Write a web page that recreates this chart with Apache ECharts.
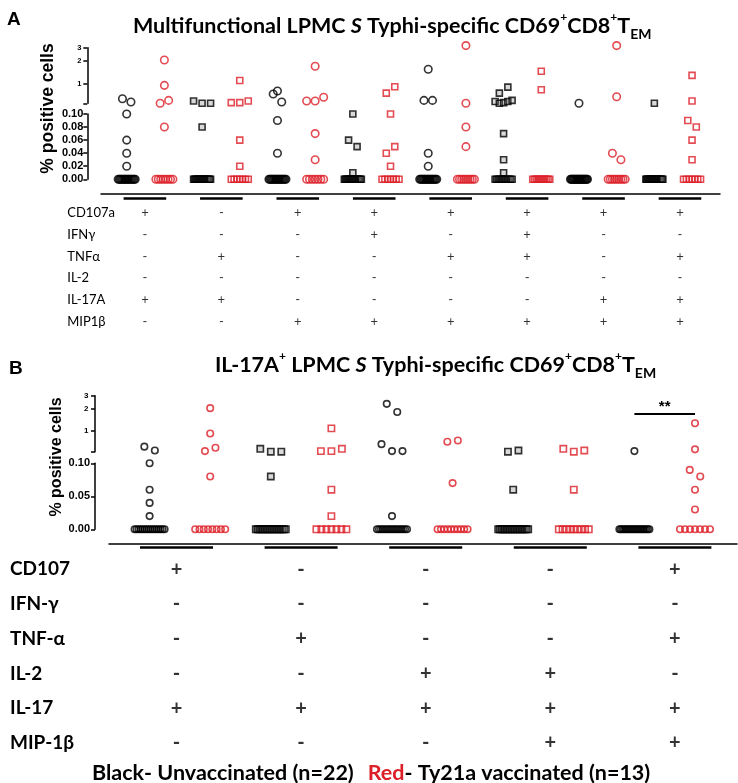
<!DOCTYPE html>
<html><head><meta charset="utf-8">
<script src="https://cdn.jsdelivr.net/npm/echarts@6/dist/echarts.min.js"></script>
<style>html,body{margin:0;padding:0;background:#fff}#c{width:738px;height:783px}</style>
</head><body><div id="c"></div>
<script>
// ================= DATA =================
// Panel A: 8 cytokine combinations; black = unvaccinated (n=22), red = Ty21a vaccinated (n=13)
const aShapes = ['circle','rect','circle','rect','circle','rect','circle','rect'];
const aUnvaccinated = [
  [0.63,0.57,0.10,0.06,0.04,0.02, 0,0,0,0,0,0,0,0,0,0,0,0,0,0,0,0],
  [0.59,0.55,0.55,0.08, 0,0,0,0,0,0,0,0,0,0,0,0,0,0,0,0,0,0],
  [0.73,0.80,0.57,0.09,0.04, 0,0,0,0,0,0,0,0,0,0,0,0,0,0,0,0,0],
  [0.10,0.06,0.05,0.01, 0,0,0,0,0,0,0,0,0,0,0,0,0,0,0,0,0,0],
  [1.55,0.60,0.60,0.04,0.02, 0,0,0,0,0,0,0,0,0,0,0,0,0,0,0,0,0],
  [0.75,0.90,0.58,0.55,0.56,0.58,0.60,0.07,0.03,0.01, 0,0,0,0,0,0,0,0,0,0,0,0],
  [0.55, 0,0,0,0,0,0,0,0,0,0,0,0,0,0,0,0,0,0,0,0,0],
  [0.55, 0,0,0,0,0,0,0,0,0,0,0,0,0,0,0,0,0,0,0,0,0]
];
const aVaccinated = [
  [2.06,0.95,0.55,0.60,0.08, 0,0,0,0,0,0,0,0],
  [1.10,0.56,0.56,0.59,0.06,0.02, 0,0,0,0,0,0,0],
  [1.70,0.59,0.59,0.66,0.07,0.03, 0,0,0,0,0,0,0],
  [0.75,0.91,0.10,0.04,0.05,0.02, 0,0,0,0,0,0,0],
  [3.20,0.55,0.08,0.05, 0,0,0,0,0,0,0,0,0],
  [1.46,0.83, 0,0,0,0,0,0,0,0,0,0,0],
  [3.20,0.67,0.04,0.03, 0,0,0,0,0,0,0,0,0],
  [1.29,0.59,0.09,0.08,0.06,0.03, 0,0,0,0,0,0,0]
];
const aRowNames = ['CD107a','IFNγ','TNFα','IL-2','IL-17A','MIP1β'];
const aSigns = [
  ['+','-','+','+','+','+','+','+'],
  ['-','-','-','+','-','+','-','-'],
  ['-','+','-','-','+','+','-','+'],
  ['-','-','-','-','-','-','-','-'],
  ['+','+','-','-','-','-','+','+'],
  ['-','-','+','+','+','+','+','+']
];
// Panel B: 5 IL-17A+ combinations
const bShapes = ['circle','rect','circle','rect','circle'];
const bUnvaccinated = [
  [0.62,0.55,0.10,0.06,0.04,0.02, 0,0,0,0,0,0,0,0,0,0,0,0,0,0,0,0],
  [0.58,0.53,0.53,0.08, 0,0,0,0,0,0,0,0,0,0,0,0,0,0,0,0,0,0],
  [2.33,1.81,0.67,0.54,0.54,0.02, 0,0,0,0,0,0,0,0,0,0,0,0,0,0,0,0],
  [0.53,0.55,0.06, 0,0,0,0,0,0,0,0,0,0,0,0,0,0,0,0,0,0,0],
  [0.54, 0,0,0,0,0,0,0,0,0,0,0,0,0,0,0,0,0,0,0,0,0]
];
const bVaccinated = [
  [2.04,0.93,0.54,0.60,0.08, 0,0,0,0,0,0,0,0],
  [1.09,0.54,0.54,0.58,0.06,0.02, 0,0,0,0,0,0,0],
  [0.72,0.75,0.07, 0,0,0,0,0,0,0,0,0,0],
  [0.58,0.53,0.55,0.06, 0,0,0,0,0,0,0,0,0],
  [1.28,0.57,0.09,0.08,0.06,0.03, 0,0,0,0,0,0,0]
];
const bRowNames = ['CD107','IFN-γ','TNF-α','IL-2','IL-17','MIP-1β'];
const bSigns = [
  ['+','-','-','-','+'],
  ['-','-','-','-','-'],
  ['-','+','-','-','+'],
  ['-','-','+','+','-'],
  ['+','+','+','+','+'],
  ['-','-','-','+','+']
];
const upperTicks = [1, 2, 3];
const aLowerInterval = 0.02, bLowerInterval = 0.05;
const bSignificance = {group: 4, text: '**', level: 1.7};
const yAxisTitle = '% positive cells';

// ================= LAYOUT / STYLE =================
const RED = '#dc1f28';
const LA = {
  axisX: 87.3, x0: 126.7, dx: 37.69, rightEdge: 720,
  upper: {top: 47.7, height: 55.6, min: 0.549, max: 3},
  lower: {top: 114, height: 65.3, interval: aLowerInterval},
  rowThresh: 9, spacing: 8.5, maxSpan: 17, circleSize: 7.5, rectSize: 6,
  upLabel: 7.5, lowLabel: 11, upMargin: 6, lowMargin: 4,
  name: {top: 45, height: 127, gap: 30, fontSize: 17.5},
  table: {left: 101, rightEdge: 720, tx0: 144.9, tdx: 38.22, top: 191.6, rowH: 21.66,
          baseline: 193.5, ulY: 0.31, ulHalf: 21.3, labelX: 67.3,
          nameFont: {fontFamily: 'Lato', fontSize: 13}, signFont: {fontFamily: 'Lato', fontSize: 13}}
};
const LB = {
  axisX: 95, x0: 149.6, dx: 60.6, rightEdge: 737,
  upper: {top: 395.7, height: 56, min: 0.53, max: 3},
  lower: {top: 463.3, height: 66, interval: bLowerInterval},
  rowThresh: 9, spacing: 10.5, maxSpan: 30, circleSize: 6.5, rectSize: 6.3,
  upLabel: 8, lowLabel: 11, upMargin: 6.5, lowMargin: 5,
  name: {top: 400, height: 114, gap: 30, fontSize: 16},
  table: {left: 109, rightEdge: 737, tx0: 176.5, tdx: 62.3, top: 534.6, rowH: 34.7,
          baseline: 543.3, ulY: 0.37, ulHalf: 36.5, labelX: 10,
          nameFont: {fontFamily: 'Lato', fontSize: 19, fontWeight: 'bold'},
          signFont: {fontFamily: 'Lato', fontSize: 20, fontWeight: 'bold'}}
};

function layoutPoints(values, L) {
  const pts = values.map((v, i) => ({v, i, seg: v > 0.1001 ? 'up' : 'low'}));
  pts.forEach(p => {
    p.py = p.seg === 'up'
      ? L.upper.height * Math.log(p.v / L.upper.min) / Math.log(L.upper.max / L.upper.min)
      : L.lower.height * p.v / 0.1;
  });
  const rows = [];
  ['up', 'low'].forEach(seg => {
    const zeros = pts.filter(p => p.seg === seg && p.v === 0);
    if (zeros.length) rows.push(zeros);
    const rest = pts.filter(p => p.seg === seg && p.v !== 0).sort((a, b) => a.py - b.py);
    let cur = null;
    rest.forEach(p => {
      if (cur && p.py - cur.start < L.rowThresh) cur.items.push(p);
      else { cur = {start: p.py, items: [p]}; rows.push(cur.items); }
    });
  });
  rows.forEach(r => {
    r.sort((a, b) => a.i - b.i);
    const k = r.length;
    const s = k > 1 ? Math.min(L.spacing, L.maxSpan / (k - 1)) : 0;
    r.forEach((p, j) => { p.dx = (j - (k - 1) / 2) * s; });
  });
  return pts;
}

function pointSeries(groups, red, shapes, L, gUp, gLow) {
  const up = [], low = [];
  groups.forEach((vals, g) => {
    const x = 2 * g + (red ? 1 : 0);
    const shape = shapes[g];
    const fill = (!red && shape === 'rect') ? 'rgba(120,120,120,0.35)' : 'rgba(255,255,255,0)';
    layoutPoints(vals, L).forEach(p => {
      const item = {value: [x, p.v], symbol: shape,
        symbolSize: shape === 'rect' ? L.rectSize : L.circleSize,
        symbolOffset: [p.dx, 0], itemStyle: {color: fill}};
      (p.seg === 'up' ? up : low).push(item);
    });
  });
  const base = {type: 'scatter', clip: false, silent: true, animation: false,
    itemStyle: {borderColor: red ? RED : '#000', borderWidth: 1.6}};
  return [
    Object.assign({}, base, {xAxisIndex: gUp, yAxisIndex: gUp, data: up}),
    Object.assign({}, base, {xAxisIndex: gLow, yAxisIndex: gLow, data: low})
  ];
}

function tableSeries(signs, L, gi) {
  const T = L.table;
  const nGroups = signs[0].length;
  const data = [];
  signs.forEach((row, r) => row.forEach((s, g) => data.push({value: [2 * g + 0.5, r + 1], label: {formatter: s}})));
  const half = T.ulHalf / T.tdx;
  return {type: 'scatter', xAxisIndex: gi, yAxisIndex: gi, silent: true, animation: false,
    symbolSize: 1, itemStyle: {color: 'rgba(0,0,0,0)'},
    label: Object.assign({show: true, position: 'inside', color: '#000'}, T.signFont),
    data,
    markLine: {silent: true, symbol: 'none', animation: false,
      lineStyle: {color: '#000', width: 2.6, type: 'solid'}, label: {show: false},
      data: Array.from({length: nGroups}, (_, g) => [{coord: [2 * g + 0.5 - half, T.ulY]}, {coord: [2 * g + 0.5 + half, T.ulY]}])}
  };
}

const axisLineStyle = {show: true, onZero: false, lineStyle: {color: '#000', width: 1.5}};
const tickStyle = {show: true, length: 4, lineStyle: {color: '#000', width: 1.5}};

function panelAxes(L, names) {
  const xmin = (L.axisX - L.x0) / L.dx, xmax = (L.rightEdge - L.x0) / L.dx;
  const T = L.table;
  const grids = [
    {left: L.axisX, width: L.rightEdge - L.axisX, top: L.upper.top, height: L.upper.height},
    {left: L.axisX, width: L.rightEdge - L.axisX, top: L.lower.top, height: L.lower.height},
    {left: T.left, width: T.rightEdge - T.left, top: T.top, height: T.rowH * 6.5},
    {left: L.axisX, width: 10, top: L.name.top, height: L.name.height}
  ];
  const hx = {type: 'value', min: xmin, max: xmax, show: false};
  const xAxes = [hx, Object.assign({}, hx), {
    type: 'value', position: 'top', offset: -(T.baseline - T.top),
    min: 0.5 + (T.left - T.tx0) / T.tdx, max: 0.5 + (T.rightEdge - T.tx0) / T.tdx,
    axisLine: {show: true, onZero: false, lineStyle: {color: '#000', width: 1.5}},
    axisTick: {show: false}, axisLabel: {show: false}, splitLine: {show: false}
  }, {type: 'value', show: false}];
  const yAxes = [
    {type: 'log', logBase: 2, min: L.upper.min, max: L.upper.max,
     axisLine: axisLineStyle, axisTick: tickStyle, splitLine: {show: false}, minorTick: {show: false},
     axisLabel: {fontFamily: 'Liberation Sans', fontWeight: 'bold', fontSize: L.upLabel, color: '#000', margin: L.upMargin,
       formatter: v => { const r = Math.round(v); return (upperTicks.indexOf(r) >= 0 && Math.abs(v - r) < 0.05) ? String(r) : ''; }}},
    {type: 'value', min: 0, max: 0.1, interval: L.lower.interval,
     axisLine: axisLineStyle, axisTick: tickStyle, splitLine: {show: false},
     axisLabel: {fontFamily: 'Liberation Sans', fontWeight: 'bold', fontSize: L.lowLabel, color: '#000', margin: L.lowMargin,
       formatter: v => v.toFixed(2)}},
    {type: 'value', inverse: true, min: 0, max: 6.5, interval: 1,
     axisLine: {show: false}, axisTick: {show: false}, splitLine: {show: false},
     axisLabel: Object.assign({align: 'left', margin: T.left - T.labelX, color: '#000',
       formatter: v => { const r = Math.round(v); return (Math.abs(v - r) < 0.01 && names[r - 1]) ? names[r - 1] : ''; }}, T.nameFont)},
    {type: 'value', min: 0, max: 1, name: yAxisTitle, nameLocation: 'middle', nameGap: L.name.gap, nameRotate: 90,
     nameTextStyle: {fontFamily: 'Liberation Sans', fontWeight: 'bold', fontSize: L.name.fontSize, color: '#000'},
     axisLine: {show: false}, axisTick: {show: false}, axisLabel: {show: false}, splitLine: {show: false}}
  ];
  return {grids, xAxes, yAxes};
}

const pA = panelAxes(LA, aRowNames);
const pB = panelAxes(LB, bRowNames);
const grid = pA.grids.concat(pB.grids);
const xAxis = pA.xAxes.concat(pB.xAxes).map((a, i) => Object.assign({gridIndex: i}, a));
const yAxis = pA.yAxes.concat(pB.yAxes).map((a, i) => Object.assign({gridIndex: i}, a));

const series = [].concat(
  pointSeries(aUnvaccinated, false, aShapes, LA, 0, 1),
  pointSeries(aVaccinated, true, aShapes, LA, 0, 1),
  [tableSeries(aSigns, LA, 2)],
  pointSeries(bUnvaccinated, false, bShapes, LB, 4, 5),
  pointSeries(bVaccinated, true, bShapes, LB, 4, 5),
  [tableSeries(bSigns, LB, 6)]
);
// significance bar in panel B
series.push({type: 'scatter', xAxisIndex: 4, yAxisIndex: 4, data: [], silent: true,
  markLine: {silent: true, symbol: 'none', animation: false,
    lineStyle: {color: '#000', width: 2, type: 'solid'},
    label: {show: true, position: 'middle', formatter: bSignificance.text, color: '#000',
      fontFamily: 'Liberation Sans', fontWeight: 'bold', fontSize: 15, distance: 0},
    data: [[{coord: [2 * bSignificance.group, bSignificance.level]}, {coord: [2 * bSignificance.group + 1, bSignificance.level]}]]}});
// empty series so the axis-title grids are laid out
series.push({type: 'scatter', xAxisIndex: 3, yAxisIndex: 3, data: [], silent: true});
series.push({type: 'scatter', xAxisIndex: 7, yAxisIndex: 7, data: [], silent: true});

const titleRich = (size) => ({
  t: {fontFamily: 'Lato', fontWeight: 'bold', fontSize: size, lineHeight: 30, color: '#000'},
  i: {fontFamily: 'Lato', fontWeight: 'bold', fontStyle: 'italic', fontSize: size, lineHeight: 30, color: '#000'},
  sup: {fontFamily: 'Lato', fontWeight: 'bold', fontSize: 12, lineHeight: 18, verticalAlign: 'top', color: '#000'},
  sub: {fontFamily: 'Lato', fontWeight: 'bold', fontSize: 14, lineHeight: 12, verticalAlign: 'bottom', color: '#000'}
});
const titleA = '{t|Multifunctional LPMC }{i|S}{t| Typhi-specific CD69}{sup|+}{t|CD8}{sup|+}{t|T}{sub|EM}';
const titleB = '{t|IL-17A}{sup|+}{t| LPMC }{i|S}{t| Typhi-specific CD69}{sup|+}{t|CD8}{sup|+}{t|T}{sub|EM}';
const legendText = '{b|Black}{n|- Unvaccinated (n=22)}{sp|}{r|Red}{n|- Ty21a vaccinated (n=13)}';

const option = {
  backgroundColor: '#fff',
  animation: false,
  grid, xAxis, yAxis, series,
  title: [
    {text: 'A', left: 2, top: 5, textStyle: {fontFamily: 'Liberation Sans', fontWeight: 'bold', fontSize: 19, color: '#000'}},
    {text: titleA, left: 128, top: 6, textStyle: {rich: titleRich(21.5)}},
    {text: 'B', left: 4, top: 354, textStyle: {fontFamily: 'Liberation Sans', fontWeight: 'bold', fontSize: 19, color: '#000'}},
    {text: titleB, left: 210, top: 345, textStyle: {rich: titleRich(21.5)}},
    {text: legendText, left: 87, top: 757, textStyle: {rich: {
      b: {fontFamily: 'Lato', fontWeight: 'bold', fontSize: 21.5, color: '#000'},
      n: {fontFamily: 'Lato', fontSize: 21.5, color: '#000'},
      r: {fontFamily: 'Lato', fontWeight: 'bold', fontSize: 21.5, color: RED},
      sp: {width: 14}
    }}}
  ]
};
const chart = echarts.init(document.getElementById('c'), null, {renderer: 'canvas'});
chart.setOption(option);
</script>
</body></html>
